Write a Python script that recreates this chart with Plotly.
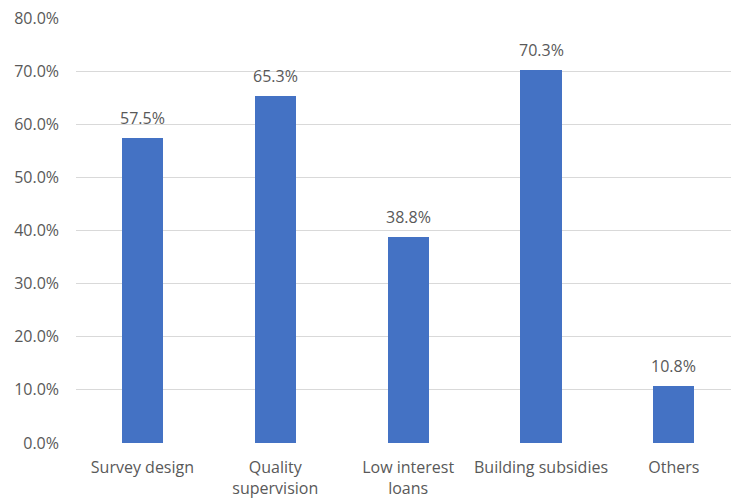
import plotly.graph_objects as go

categories = ["Survey design", "Quality<br>supervision", "Low interest<br>loans", "Building subsidies", "Others"]
values = [57.5, 65.3, 38.8, 70.3, 10.8]
tick_vals = [0, 10, 20, 30, 40, 50, 60, 70, 80]
tick_text = [f"{v:.1f}%" for v in tick_vals]

FONT = "Open Sans"
GREY = "#595959"
FS = 16

xs = list(range(len(categories)))

fig = go.Figure()
fig.add_trace(go.Bar(
    x=xs,
    y=values,
    width=0.31,
    marker=dict(color="#4472C4", line=dict(width=0)),
    hoverinfo="skip",
))

for x, v in zip(xs, values):
    fig.add_annotation(
        x=x, y=v, text=f"{v:.1f}%", showarrow=False,
        yanchor="bottom", yshift=7,
        font=dict(family=FONT, size=FS, color=GREY),
    )

fig.update_layout(
    width=731, height=500,
    margin=dict(l=75.5, r=0, t=18, b=56.5),
    plot_bgcolor="white", paper_bgcolor="white",
    showlegend=False,
    bargap=0,
    font=dict(family=FONT, size=FS, color=GREY),
)
fig.update_xaxes(
    tickmode="array",
    tickvals=xs,
    ticktext=categories,
    range=[-0.5, 4.43],
    showgrid=False, zeroline=False, showline=False,
    ticks="", ticklabelstandoff=13,
    tickfont=dict(family=FONT, size=FS, color=GREY),
)
fig.update_yaxes(
    range=[0, 80],
    tickmode="array", tickvals=tick_vals, ticktext=tick_text,
    showgrid=True, gridcolor="#D9D9D9", gridwidth=1,
    zeroline=False, showline=False, ticks="",
    ticklabelstandoff=16,
    tickfont=dict(family=FONT, size=FS, color=GREY),
)

fig.write_html("out.html")
